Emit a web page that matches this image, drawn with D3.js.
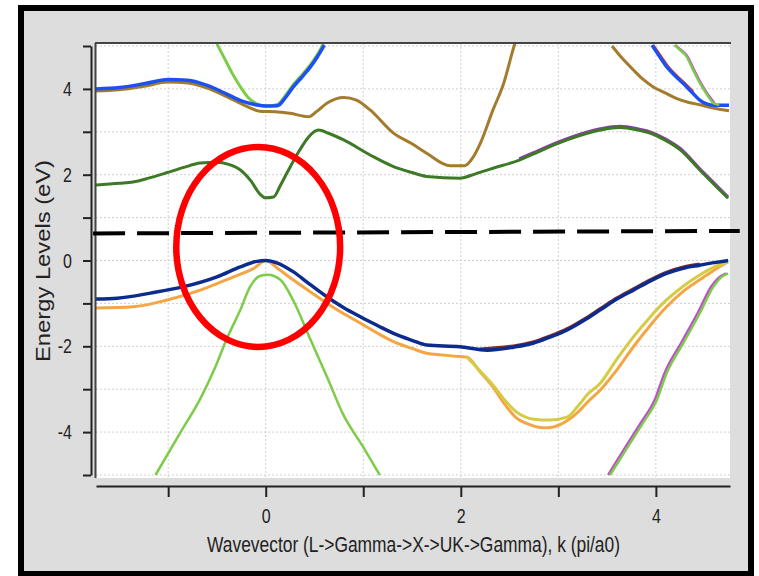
<!DOCTYPE html>
<html>
<head>
<meta charset="utf-8">
<script src="https://cdn.jsdelivr.net/npm/d3@7"></script>
<style>
body { margin: 0; background: #fff; }
text { font-family: "Liberation Sans", Arial, sans-serif; fill: #222; }
</style>
</head>
<body>
<svg id="chart" width="759" height="576"></svg>
<script>
// band energies (eV) against k (pi/a0)
var xTicks = [-1, 0, 1, 2, 3, 4];
var yTicks = [-5, -4, -3, -2, -1, 0, 1, 2, 3, 4, 5];

var lowGreenL = [[-1.13,-5.0],[-0.88,-4.03],[-0.67,-3.22],[-0.52,-2.5],[-0.39,-1.78],[-0.26,-1.15],[-0.16,-0.61],[-0.06,-0.36],[0.02,-0.33],[0.15,-0.45],[0.28,-0.92],[0.46,-1.85],[0.63,-2.72],[0.79,-3.57],[1.0,-4.35],[1.17,-5.0]];
var lowMagentaR = [[3.51,-5.0],[3.71,-4.27],[3.85,-3.77],[3.99,-3.24],[4.09,-2.62],[4.26,-1.92],[4.43,-1.22],[4.57,-0.6],[4.64,-0.41],[4.72,-0.3]];
var lowGreenR = [[3.53,-5.0],[3.73,-4.28],[3.87,-3.78],[4.01,-3.25],[4.11,-2.63],[4.28,-1.93],[4.45,-1.23],[4.59,-0.61],[4.66,-0.41],[4.74,-0.3]];
var orangeBand = [[-1.74,-1.11],[-1.36,-1.08],[-1.01,-0.92],[-0.67,-0.69],[-0.33,-0.38],[-0.12,-0.18],[0,0],[0.12,-0.18],[0.28,-0.45],[0.45,-0.72],[0.63,-1.0],[0.8,-1.24],[0.97,-1.46],[1.15,-1.7],[1.31,-1.89],[1.5,-2.05],[1.65,-2.16],[1.8,-2.2],[1.99,-2.24],[2.06,-2.25],[2.2,-2.6],[2.33,-2.95],[2.45,-3.35],[2.56,-3.65],[2.7,-3.82],[2.85,-3.9],[2.95,-3.88],[3.1,-3.72],[3.19,-3.56],[3.3,-3.3],[3.43,-3.02],[3.6,-2.55],[3.77,-2.01],[3.94,-1.52],[4.11,-1.08],[4.28,-0.72],[4.45,-0.45],[4.6,-0.22],[4.74,-0.03]];
var yellowBand = [[2.06,-2.25],[2.2,-2.58],[2.33,-2.9],[2.45,-3.25],[2.57,-3.53],[2.75,-3.7],[2.91,-3.72],[3.09,-3.65],[3.2,-3.4],[3.3,-3.12],[3.43,-2.86],[3.6,-2.3],[3.77,-1.78],[3.94,-1.32],[4.11,-0.92],[4.28,-0.6],[4.45,-0.34],[4.6,-0.15],[4.74,-0.03]];
var darkRedBand = [[2.2,-2.06],[2.54,-1.99],[2.74,-1.9],[2.9,-1.77],[3.09,-1.59],[3.26,-1.37],[3.43,-1.12],[3.6,-0.87],[3.77,-0.66],[3.94,-0.45],[4.11,-0.27],[4.28,-0.15],[4.45,-0.08]];
var navyBand = [[-1.74,-0.9],[-1.52,-0.88],[-1.18,-0.76],[-0.84,-0.61],[-0.5,-0.38],[-0.26,-0.15],[-0.09,-0.02],[0,0],[0.12,-0.06],[0.28,-0.26],[0.45,-0.55],[0.63,-0.85],[0.8,-1.1],[0.97,-1.31],[1.15,-1.52],[1.31,-1.7],[1.5,-1.86],[1.65,-1.97],[1.99,-2.01],[2.27,-2.09],[2.54,-2.02],[2.74,-1.93],[2.9,-1.8],[3.09,-1.62],[3.26,-1.4],[3.43,-1.15],[3.6,-0.9],[3.77,-0.69],[3.94,-0.48],[4.11,-0.3],[4.28,-0.18],[4.45,-0.11],[4.6,-0.05],[4.74,0.0]];
var purpleBand = [[2.6,2.37],[2.74,2.51],[3.09,2.84],[3.43,3.07],[3.63,3.13],[3.8,3.08],[3.94,3.0],[4.1,2.83],[4.25,2.61],[4.45,2.14],[4.62,1.75],[4.74,1.48]];
var darkGreenBand = [[-1.74,1.76],[-1.5,1.8],[-1.36,1.83],[-1.2,1.92],[-1.01,2.05],[-0.84,2.17],[-0.67,2.27],[-0.5,2.29],[-0.38,2.24],[-0.26,2.11],[-0.15,1.85],[-0.06,1.55],[0,1.46],[0.08,1.48],[0.15,1.75],[0.22,2.05],[0.35,2.58],[0.44,2.88],[0.54,3.04],[0.65,2.96],[0.8,2.81],[1.07,2.46],[1.31,2.19],[1.5,2.05],[1.65,1.96],[1.99,1.92],[2.15,2.02],[2.33,2.15],[2.6,2.34],[2.74,2.48],[3.09,2.81],[3.43,3.04],[3.63,3.1],[3.8,3.05],[3.94,2.97],[4.1,2.8],[4.25,2.58],[4.45,2.11],[4.62,1.72],[4.74,1.45]];
var brownBandL = [[-1.74,3.95],[-1.5,3.98],[-1.25,4.06],[-1.0,4.16],[-0.8,4.14],[-0.6,4.02],[-0.4,3.82],[-0.2,3.6],[-0.06,3.48],[0.1,3.47],[0.25,3.43],[0.44,3.35],[0.52,3.47],[0.63,3.67],[0.8,3.8],[0.93,3.74],[1.07,3.51],[1.31,2.97],[1.5,2.72],[1.65,2.5],[1.89,2.21],[2.04,2.21],[2.13,2.42],[2.2,2.73],[2.33,3.51],[2.44,4.13],[2.54,4.95],[2.56,5.1]];
var brownBandR = [[3.55,5.0],[3.66,4.7],[3.77,4.44],[3.87,4.22],[3.97,4.05],[4.1,3.9],[4.21,3.78],[4.33,3.69],[4.45,3.63],[4.6,3.55],[4.75,3.49]];
var greenTopL = [[-0.5,5.05],[-0.42,4.7],[-0.34,4.35],[-0.26,4.05],[-0.18,3.8],[-0.1,3.66],[0,3.6],[0.12,3.64],[0.2,3.84],[0.28,4.09],[0.38,4.35],[0.46,4.57],[0.53,4.8],[0.59,5.05]];
var blueTopL = [[-1.74,4.0],[-1.5,4.03],[-1.25,4.12],[-1.0,4.22],[-0.8,4.2],[-0.6,4.08],[-0.4,3.88],[-0.25,3.72],[-0.1,3.63],[0,3.6],[0.12,3.61],[0.2,3.79],[0.28,4.04],[0.38,4.3],[0.46,4.52],[0.53,4.75],[0.6,5.02]];
var redTopR = [[3.97,5.02],[4.05,4.76],[4.12,4.53],[4.21,4.31],[4.29,4.14],[4.38,3.93]];
var blueTopR = [[3.96,5.02],[4.04,4.75],[4.11,4.52],[4.2,4.3],[4.28,4.13],[4.37,3.92],[4.45,3.74],[4.52,3.65],[4.6,3.62],[4.75,3.62]];
var magentaTopR = [[4.2,5.02],[4.26,4.9],[4.32,4.77],[4.39,4.45],[4.46,4.14],[4.53,3.88],[4.6,3.67]];
var greenTopR = [[4.19,5.02],[4.25,4.9],[4.31,4.77],[4.38,4.45],[4.45,4.14],[4.52,3.88],[4.59,3.67],[4.65,3.63]];

// fermi-level guide and highlight, in data units
var fermiLine = [[-1.77,0.63],[4.86,0.69]];
var highlight = {k:-0.077, e:0.315, dk:0.84, de:2.33};

var bands = [
	{data:lowGreenL, colour:'#7ccc48', width:2.5},
	{data:lowMagentaR, colour:'#c04cd0', width:2.5},
	{data:lowGreenR, colour:'#7ccc48', width:2.5},
	{data:orangeBand, colour:'#f4a646', width:3},
	{data:yellowBand, colour:'#d5cb45', width:3},
	{data:darkRedBand, colour:'#8c2a20', width:3},
	{data:navyBand, colour:'#0b2b8e', width:3.5},
	{data:purpleBand, colour:'#8a3aa8', width:3},
	{data:darkGreenBand, colour:'#3e7a26', width:3},
	{data:brownBandL, colour:'#a37b2c', width:3},
	{data:brownBandR, colour:'#a37b2c', width:3},
	{data:greenTopL, colour:'#7ccc48', width:3},
	{data:blueTopL, colour:'#1d50f0', width:3.5},
	{data:redTopR, colour:'#e03a2a', width:3},
	{data:blueTopR, colour:'#1d50f0', width:3.5},
	{data:magentaTopR, colour:'#c04cd0', width:2.5},
	{data:greenTopR, colour:'#7ccc48', width:2.5}
];

var svg = d3.select('#chart');
var plot = {left:96, top:43, right:730, bottom:478};
var stretch = 1.3; // the source picture is squashed sideways, text looks tall

var x = d3.scaleLinear().domain([-1.74, 4.76]).range([plot.left, plot.right]);
var y = d3.scaleLinear().domain([-5, 5]).range([475, 46]);

// panel and frame
svg.append('rect').attr('x', 21).attr('y', 8).attr('width', 730).attr('height', 566)
	.attr('fill', '#dddddd').attr('stroke', '#000').attr('stroke-width', 6);
svg.append('rect').attr('x', plot.left).attr('y', plot.top)
	.attr('width', plot.right - plot.left).attr('height', plot.bottom - plot.top).attr('fill', '#fff');

svg.append('clipPath').attr('id', 'clip').append('rect')
	.attr('x', plot.left).attr('y', plot.top)
	.attr('width', plot.right - plot.left).attr('height', plot.bottom - plot.top);

// dotted grid
var grid = svg.append('g').attr('clip-path', 'url(#clip)');
grid.selectAll('line.gx').data(xTicks).enter().append('line')
	.attr('x1', d => x(d)).attr('x2', d => x(d))
	.attr('y1', plot.top).attr('y2', plot.bottom)
	.attr('stroke', '#cfcfcf').attr('stroke-dasharray', '2,2');
grid.selectAll('line.gy').data(yTicks).enter().append('line')
	.attr('y1', d => y(d)).attr('y2', d => y(d))
	.attr('x1', plot.left).attr('x2', plot.right)
	.attr('stroke', '#cfcfcf').attr('stroke-dasharray', '2,2');

// bands
var line = d3.line().x(d => x(d[0])).y(d => y(d[1])).curve(d3.curveMonotoneX);
var g = svg.append('g').attr('clip-path', 'url(#clip)');
g.selectAll('path').data(bands).enter().append('path')
	.attr('d', d => line(d.data))
	.attr('fill', 'none')
	.attr('stroke', d => d.colour)
	.attr('stroke-width', d => d.width)
	.attr('stroke-linejoin', 'round');

// sunken frame edges (top and left)
svg.append('line').attr('x1', plot.left - 1).attr('x2', plot.right + 1).attr('y1', plot.top).attr('y2', plot.top)
	.attr('stroke', '#444').attr('stroke-width', 2);
svg.append('line').attr('x1', plot.left - 0.5).attr('x2', plot.left - 0.5).attr('y1', plot.top).attr('y2', plot.bottom)
	.attr('stroke', '#444').attr('stroke-width', 2);

// axes
var fmt = d => (d % 2 === 0 ? d : '');
var xAxis = svg.append('g').attr('transform', 'translate(0,486)')
	.call(d3.axisBottom(x).tickValues(xTicks).tickFormat(fmt).tickSize(11).tickSizeOuter(0).tickPadding(11));
var yAxis = svg.append('g').attr('transform', 'translate(91,0)')
	.call(d3.axisLeft(y).tickValues(yTicks).tickFormat(fmt).tickSize(8).tickSizeOuter(0).tickPadding(11));
[xAxis, yAxis].forEach(a => {
	a.selectAll('path, line').attr('stroke', '#222').attr('stroke-width', 2);
	a.selectAll('text').attr('font-size', 16).attr('fill', '#222')
		.attr('font-family', '"Liberation Sans", Arial, sans-serif')
		.attr('transform', 'scale(1,' + stretch + ')');
});
xAxis.selectAll('text').attr('y', 22 / stretch);

svg.append('g').attr('transform', 'translate(413.5,552) scale(1,' + stretch + ')')
	.append('text').attr('text-anchor', 'middle')
	.attr('font-size', 17).attr('textLength', 413).attr('lengthAdjust', 'spacingAndGlyphs')
	.text('Wavevector (L->Gamma->X->UK->Gamma), k (pi/a0)');
svg.append('text').attr('transform', 'translate(50,261) rotate(-90)').attr('text-anchor', 'middle')
	.attr('font-size', 20).attr('textLength', 202).attr('lengthAdjust', 'spacingAndGlyphs')
	.text('Energy Levels (eV)');

// annotations
svg.append('line')
	.attr('x1', x(fermiLine[0][0])).attr('y1', y(fermiLine[0][1]))
	.attr('x2', x(fermiLine[1][0])).attr('y2', y(fermiLine[1][1]))
	.attr('stroke', '#000').attr('stroke-width', 4).attr('stroke-dasharray', '32,12');
svg.append('ellipse')
	.attr('cx', x(highlight.k)).attr('cy', y(highlight.e))
	.attr('rx', x(highlight.dk) - x(0)).attr('ry', y(0) - y(highlight.de))
	.attr('fill', 'none').attr('stroke', '#ff0000').attr('stroke-width', 6.5);
</script>
</body>
</html>
